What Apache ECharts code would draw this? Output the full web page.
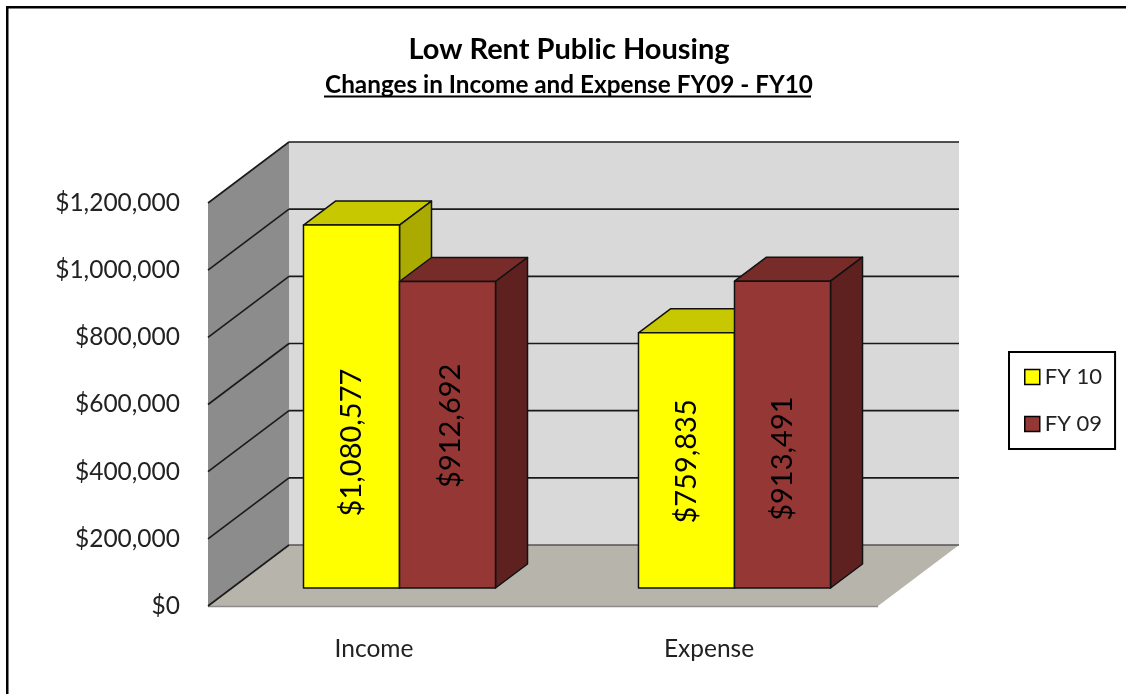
<!DOCTYPE html>
<html>
<head>
<meta charset="utf-8">
<title>Low Rent Public Housing</title>
<script src="https://cdn.jsdelivr.net/npm/echarts@6/dist/echarts.min.js"></script>
<style>
  html, body { margin: 0; padding: 0; background: #fff; }
  #chart { width: 1126px; height: 694px; }
</style>
</head>
<body>
<div id="chart"></div>
<script>
  var categories = ['Income', 'Expense']
  var fy10Values = [1080577, 759835]
  var fy09Values = [912692, 913491]
  var yTicks = [0, 200000, 400000, 600000, 800000, 1000000, 1200000]

  var FONT = 'Lato'
  // pixel depth of the fake 3d box
  var WALL_DX = 81, WALL_DY = 61
  var BAR_INSET_DX = 24, BAR_INSET_DY = 18
  var BAR_DX = 32, BAR_DY = 24
  var BAR_BAND = 0.2866

  function money(v) {
    return '$' + String(v).replace(/\B(?=(\d{3})+$)/g, ',')
  }

  function poly(points, fill, stroke, width) {
    return {
      type: 'polygon',
      shape: {points: points},
      style: {fill: fill, stroke: stroke || null, lineWidth: width || 0, lineJoin: 'round'}
    }
  }

  function line(x1, y1, x2, y2, color, width) {
    return {
      type: 'line',
      shape: {x1: x1, y1: y1, x2: x2, y2: y2},
      style: {stroke: color, lineWidth: width, fill: null}
    }
  }

  function renderWalls(params, api) {
    var band = api.size([1, 0])[0]
    var left = api.coord([0, 0])[0] - band / 2
    var right = api.coord([categories.length - 1, 0])[0] + band / 2
    var y0 = api.coord([0, 0])[1]
    var yTop = api.coord([0, yTicks[yTicks.length - 1]])[1]
    var children = [
      poly([[left + WALL_DX, yTop - WALL_DY], [right + WALL_DX, yTop - WALL_DY], [right + WALL_DX, y0 - WALL_DY], [left + WALL_DX, y0 - WALL_DY]], '#d9d9d9'),
      poly([[left, y0], [left, yTop], [left + WALL_DX, yTop - WALL_DY], [left + WALL_DX, y0 - WALL_DY]], '#8c8c8c'),
      poly([[left, y0], [right, y0], [right + WALL_DX, y0 - WALL_DY], [left + WALL_DX, y0 - WALL_DY]], '#b7b4ac'),
      line(left, y0 + 0.5, right, y0 + 0.5, '#8a8a8a', 1.5)
    ]
    yTicks.forEach(function (t) {
      var y = api.coord([0, t])[1]
      var color = t === 0 ? '#555555' : '#1a1a1a'
      children.push(line(left, y, left + WALL_DX, y - WALL_DY, '#1a1a1a', 1.6))
      children.push(line(left + WALL_DX, y - WALL_DY, right + WALL_DX, y - WALL_DY, color, 1.6))
    })
    return {type: 'group', children: children}
  }

  // side: -1 sits left of the category centre, 0 right of it
  function barRenderer(side, face, top, flank, labelShift) {
    return function (params, api) {
      var band = api.size([1, 0])[0]
      var w = band * BAR_BAND
      var base = api.coord([api.value(0), 0])
      var head = api.coord([api.value(0), api.value(1)])
      var x0 = base[0] + BAR_INSET_DX + side * w
      var x1 = x0 + w
      var y0 = base[1] - BAR_INSET_DY
      var y1 = head[1] - BAR_INSET_DY
      var edge = '#111111'
      return {
        type: 'group',
        children: [
          poly([[x0, y1], [x0 + BAR_DX, y1 - BAR_DY], [x1 + BAR_DX, y1 - BAR_DY], [x1, y1]], top, edge, 1.5),
          poly([[x1, y1], [x1 + BAR_DX, y1 - BAR_DY], [x1 + BAR_DX, y0 - BAR_DY], [x1, y0]], flank, edge, 1.5),
          poly([[x0, y1], [x1, y1], [x1, y0], [x0, y0]], face, edge, 1.5),
          {
            type: 'text',
            x: (x0 + x1) / 2 + labelShift[params.dataIndex][0],
            y: (y0 + y1) / 2 + labelShift[params.dataIndex][1],
            rotation: Math.PI / 2,
            style: {
              text: money(api.value(1)),
              fontFamily: FONT,
              fontSize: 29,
              fill: '#000',
              align: 'center',
              verticalAlign: 'middle'
            }
          }
        ]
      }
    }
  }

  var myChart = echarts.init(document.getElementById('chart'))

  var option = {
    animation: false,
    backgroundColor: '#ffffff',
    title: {
      left: 564,
      top: 30,
      textAlign: 'center',
      text: 'Low Rent Public Housing',
      subtext: 'Changes in Income and Expense FY09 - FY10',
      itemGap: 9,
      textStyle: {fontFamily: FONT, fontSize: 29, fontWeight: 'bold', color: '#000'},
      subtextStyle: {fontFamily: FONT, fontSize: 24.3, fontWeight: 'bold', color: '#000'}
    },
    legend: {
      left: 1009,
      top: 352,
      orient: 'vertical',
      padding: [14, 13, 14, 15],
      itemGap: 25,
      itemWidth: 15,
      itemHeight: 15,
      borderColor: '#000',
      borderWidth: 2,
      textStyle: {fontFamily: FONT, fontSize: 22, color: '#222'},
      data: [
        {name: 'FY 10', icon: 'rect', itemStyle: {color: '#ffff00', borderColor: '#000', borderWidth: 1.5}},
        {name: 'FY 09', icon: 'rect', itemStyle: {color: '#953735', borderColor: '#000', borderWidth: 1.5}}
      ]
    },
    grid: {left: 208, right: 248, top: 203, bottom: 88},
    xAxis: {
      type: 'category',
      data: categories,
      axisLine: {show: false},
      axisTick: {show: false},
      axisLabel: {margin: 31, fontFamily: FONT, fontSize: 24.5, color: '#222', padding: [0, 3, 0, 0]}
    },
    yAxis: {
      type: 'value',
      min: 0,
      max: 1200000,
      interval: 200000,
      axisLine: {show: false},
      axisTick: {show: false},
      splitLine: {show: false},
      axisLabel: {margin: 28, fontFamily: FONT, fontSize: 24.5, color: '#222', formatter: money}
    },
    graphic: [
      {type: 'rect', shape: {x: 6, y: 6, width: 1120, height: 2.5}, style: {fill: '#000'}, silent: true},
      {type: 'rect', shape: {x: 6, y: 6, width: 2.5, height: 688}, style: {fill: '#000'}, silent: true},
      {type: 'rect', shape: {x: 324, y: 95.5, width: 487, height: 2}, style: {fill: '#000'}, silent: true}
    ],
    series: [
      {
        name: 'walls',
        type: 'custom',
        silent: true,
        z: 1,
        renderItem: renderWalls,
        encode: {x: 0, y: 1},
        data: [[0, 0]]
      },
      {
        name: 'FY 10',
        type: 'custom',
        silent: true,
        z: 2,
        itemStyle: {color: '#ffff00'},
        renderItem: barRenderer(-1, '#ffff00', '#c8c800', '#aaaa00', [[0, 36], [0, 1]]),
        encode: {x: 0, y: 1},
        data: fy10Values.map(function (v, i) { return [i, v] })
      },
      {
        name: 'FY 09',
        type: 'custom',
        silent: true,
        z: 3,
        itemStyle: {color: '#953735'},
        renderItem: barRenderer(0, '#953735', '#772c2a', '#5f2120', [[3, -9], [0, 24]]),
        encode: {x: 0, y: 1},
        data: fy09Values.map(function (v, i) { return [i, v] })
      }
    ]
  }

  myChart.setOption(option)
</script>
</body>
</html>
